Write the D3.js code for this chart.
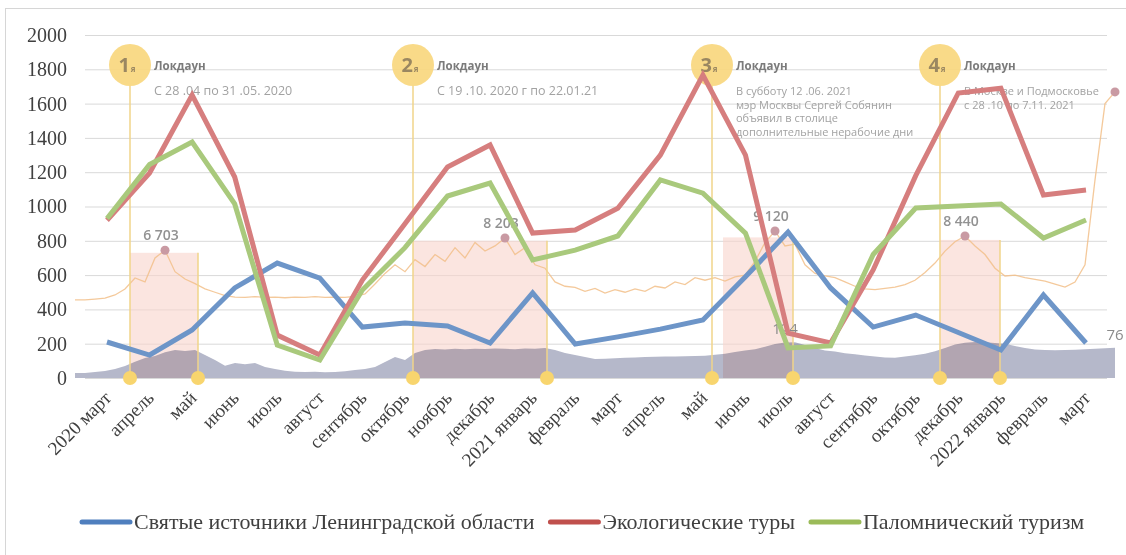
<!DOCTYPE html>
<html>
<head>
<meta charset="utf-8">
<script src="https://cdn.jsdelivr.net/npm/d3@7"></script>
<style>
  body { margin: 0; background: #fff; }
  svg { display: block; }
</style>
</head>
<body>
<svg id="chart" width="1126" height="555"></svg>
<script>
// monthly categories (the source skips "ноябрь" 2021 in its labels)
const months = ["2020 март", "апрель", "май", "июнь", "июль", "август", "сентябрь", "октябрь", "ноябрь", "декабрь",
    "2021 январь", "февраль", "март", "апрель", "май", "июнь", "июль", "август", "сентябрь", "октябрь",
    "декабрь", "2022 январь", "февраль", "март"]

const springs    = [210, 134, 280, 525, 670, 583, 297, 320, 303, 204, 496, 198, 240, 285, 338, 590, 851, 525, 297, 367, 265, 163, 484, 204]
const ecoTours   = [920, 1195, 1650, 1172, 250, 134, 571, 900, 1230, 1359, 845, 863, 990, 1300, 1767, 1300, 262, 204, 630, 1180, 1662, 1690, 1067, 1096]
const pilgrimage = [930, 1245, 1376, 1015, 192, 105, 513, 760, 1061, 1137, 688, 746, 828, 1155, 1078, 845, 175, 187, 720, 991, 1003, 1015, 816, 921]

const seriesNames = ["Святые источники Ленинградской области", "Экологические туры", "Паломнический туризм"]
const seriesValues = [springs, ecoTours, pilgrimage]

const bgOrange = [455, 455, 460, 466, 484, 519, 583, 560, 700, 745,
    620, 577, 550, 520, 500, 480, 472, 470, 474, 470,
    472, 468, 472, 470, 474, 470, 472, 470, 476, 490,
    548, 610, 660, 620, 690, 650, 720, 680, 760, 700,
    790, 740, 770, 816, 720, 760, 660, 640, 560, 535,
    528, 505, 522, 495, 515, 500, 520, 505, 535, 525,
    560, 545, 585, 570, 585, 565, 590, 600, 680, 790,
    857, 770, 780, 660, 610, 595, 585, 560, 535, 520,
    515, 522, 530, 545, 570, 615, 670, 740, 795, 828,
    770, 720, 640, 595, 600, 585, 575, 565, 548, 530,
    560, 660, 1155, 1600, 1668]

const bgCases = [29, 29, 35, 41, 52, 70, 95, 117, 128, 150,
    163, 157, 163, 134, 105, 72, 87, 80, 88, 64,
    52, 42, 36, 35, 36, 34, 35, 40, 47, 52,
    64, 93, 122, 105, 146, 163, 169, 166, 170, 168,
    171, 169, 172, 170, 168, 172, 170, 175, 163, 146,
    134, 122, 111, 112, 115, 118, 120, 122, 124, 125,
    126, 127, 128, 130, 136, 142, 152, 160, 168, 182,
    198, 207, 208, 192, 175, 160, 154, 145, 138, 131,
    125, 119, 118, 126, 132, 142, 156, 175, 196, 206,
    210, 208, 204, 200, 186, 175, 166, 163, 162, 163,
    165, 168, 170, 174, 176]

const peakIndex = [9, 43, 70, 89, 104]
const peakText  = ["6 703", "8 203", "9 120", "8 440", ""]
const caseIndex = [71, 104]
const caseText  = ["124", "76"]

const lockdownNo        = ["1", "2", "3", "4"]
const lockdownStart     = [5.5, 33.8, 63.7, 86.5]
const lockdownShadeFrom = [5.5, 33.8, 64.8, 86.5]
const lockdownEnd       = [12.3, 47.2, 71.8, 92.5]
const lockdownTop       = [730, 800, 820, 805]
const lockdownNotes = [
    ["С 28 .04 по 31 .05. 2020"],
    ["С 19 .10.  2020 г по 22.01.21"],
    ["В субботу 12 .06. 2021", "мэр Москвы Сергей Собянин", "объявил в столице", "дополнительные нерабочие дни"],
    ["В Москве и Подмосковье", "с 28 .10 по 7.11. 2021"]
]

const yTicks = d3.range(0, 2001, 200)

const plotLeft = 85, plotRight = 1107, plotTop = 35, plotBottom = 378
const circleY = 65, circleR = 21
const serif = "'Liberation Serif', 'Times New Roman', serif"
const sans = "'Open Sans', 'Noto Sans', sans-serif"

const svg = d3.select("#chart")

const y = d3.scaleLinear().domain([0, 2000]).range([plotBottom, plotTop])
const x = d3.scalePoint().domain(d3.range(months.length)).range([107, 1086])
const bgX = d3.scaleLinear().domain([0, bgOrange.length - 1]).range([75, 1115])
const lineColor = d3.scaleOrdinal(seriesNames, ["#6d95c8", "#d67e7e", "#a9c97c"])
const legendColor = d3.scaleOrdinal(seriesNames, ["#4f7fbe", "#c0504d", "#9bbb59"])

// frame
svg.append("rect")
    .attr("x", 5.5).attr("y", 8.5).attr("width", 1130).attr("height", 560)
    .attr("fill", "none").attr("stroke", "#d6d6d6")

// grid + y labels
const yAxis = svg.append("g")
    .attr("transform", `translate(${plotLeft},0)`)
    .call(d3.axisLeft(y).tickValues(yTicks).tickFormat(d3.format("d"))
        .tickSize(-(plotRight - plotLeft)).tickPadding(18))
yAxis.select(".domain").remove()
yAxis.selectAll(".tick line").attr("stroke", "#d9d9d9")
yAxis.selectAll(".tick text")
    .attr("font-family", serif).attr("font-size", 20).attr("fill", "#404040")

const lk = d3.range(lockdownNo.length)

// lockdown shading
svg.append("g").selectAll("rect").data(lk).join("rect")
    .attr("x", k => bgX(lockdownShadeFrom[k]))
    .attr("y", k => y(lockdownTop[k]))
    .attr("width", k => bgX(lockdownEnd[k]) - bgX(lockdownShadeFrom[k]))
    .attr("height", k => y(0) - y(lockdownTop[k]))
    .attr("fill", "#f8d3cc").attr("opacity", 0.6)

// daily cases area
svg.append("path").datum(bgCases)
    .attr("d", d3.area().x((d, i) => bgX(i)).y0(y(0)).y1(d => y(d)))
    .attr("fill", "#b5b8ca")
    .style("mix-blend-mode", "multiply")

// orange daily line
svg.append("path").datum(bgOrange)
    .attr("d", d3.line().x((d, i) => bgX(i)).y(d => y(d)))
    .attr("fill", "none").attr("stroke", "#f2bf8a").attr("stroke-width", 1.3).attr("opacity", 0.85)

// lockdown markers
const marks = svg.append("g")
marks.selectAll("line.start").data(lk).join("line").attr("class", "start")
    .attr("x1", k => bgX(lockdownStart[k])).attr("x2", k => bgX(lockdownStart[k]))
    .attr("y1", circleY + circleR).attr("y2", y(0))
    .attr("stroke", "#f1d58a").attr("stroke-width", 1.5)
marks.selectAll("line.end").data(lk).join("line").attr("class", "end")
    .attr("x1", k => bgX(lockdownEnd[k])).attr("x2", k => bgX(lockdownEnd[k]))
    .attr("y1", k => y(lockdownTop[k])).attr("y2", y(0))
    .attr("stroke", "#f1d58a").attr("stroke-width", 1.5)
marks.selectAll("circle.foot").data(lk.flatMap(k => [lockdownStart[k], lockdownEnd[k]])).join("circle")
    .attr("class", "foot")
    .attr("cx", d => bgX(d)).attr("cy", y(0)).attr("r", 7)
    .attr("fill", "#f8d56e")
marks.selectAll("circle.head").data(lk).join("circle").attr("class", "head")
    .attr("cx", k => bgX(lockdownStart[k])).attr("cy", circleY).attr("r", circleR)
    .attr("fill", "#f9d77e").attr("opacity", 0.92)

const num = marks.selectAll("text.num").data(lk).join("text").attr("class", "num")
    .attr("x", k => bgX(lockdownStart[k]) - 3).attr("y", circleY + 7)
    .attr("text-anchor", "middle")
    .attr("font-family", sans).attr("font-weight", 700).attr("font-size", 20).attr("fill", "#9a8761")
num.append("tspan").text(k => lockdownNo[k])
num.append("tspan").attr("font-size", 8).attr("dx", 1).text("я")

marks.selectAll("text.title").data(lk).join("text").attr("class", "title")
    .attr("x", k => bgX(lockdownStart[k]) + 24).attr("y", circleY + 5)
    .attr("font-family", sans).attr("font-weight", 700).attr("font-size", 11.5).attr("fill", "#7b7b7b")
    .text("Локдаун")

// single-line notes are set a little larger than the multi-line ones
marks.selectAll("text.note").data(lk).join("text").attr("class", "note")
    .attr("font-family", sans).attr("fill", "#a2a2a2")
    .attr("font-size", k => lockdownNotes[k].length > 1 ? 11 : 12.5)
    .each(function (k) {
        d3.select(this).selectAll("tspan").data(lockdownNotes[k]).join("tspan")
            .attr("x", bgX(lockdownStart[k]) + 24)
            .attr("y", (d, j) => circleY + 30 + j * 13.5)
            .text(d => d)
    })

// peak dots on the orange line
const pk = d3.range(peakIndex.length)
svg.append("g").selectAll("circle").data(pk).join("circle")
    .attr("cx", k => bgX(peakIndex[k])).attr("cy", k => y(bgOrange[peakIndex[k]]))
    .attr("r", 4.5).attr("fill", "#c99aa3")
svg.append("g").selectAll("text").data(pk).join("text")
    .attr("x", k => bgX(peakIndex[k]) - 4).attr("y", k => y(bgOrange[peakIndex[k]]) - 10)
    .attr("text-anchor", "middle")
    .attr("font-family", sans).attr("font-weight", 600).attr("font-size", 14).attr("fill", "#929292")
    .text(k => peakText[k])
svg.append("g").selectAll("text").data(d3.range(caseIndex.length)).join("text")
    .attr("x", k => bgX(caseIndex[k])).attr("y", k => y(bgCases[caseIndex[k]]) - 8)
    .attr("text-anchor", "middle")
    .attr("font-family", sans).attr("font-size", 15).attr("fill", "#8a8a8a")
    .text(k => caseText[k])

// the three monthly series
const line = d3.line().x((d, i) => x(i)).y(d => y(d))
svg.append("g").selectAll("path").data(seriesNames).join("path")
    .attr("d", (s, k) => line(seriesValues[k]))
    .attr("fill", "none")
    .attr("stroke", s => lineColor(s))
    .attr("stroke-width", 5)
    .attr("stroke-linejoin", "miter")

// x axis labels
const xAxis = svg.append("g")
    .attr("transform", `translate(0,${plotBottom})`)
    .call(d3.axisBottom(x).tickSize(0).tickFormat(i => months[i]))
xAxis.select(".domain").remove()
xAxis.selectAll(".tick text")
    .attr("x", 0).attr("y", 0).attr("dy", null)
    .attr("transform", "translate(5,21) rotate(-45)")
    .attr("text-anchor", "end")
    .attr("font-family", serif).attr("font-size", 19).attr("fill", "#404040")

// legend
const legend = svg.append("g").attr("transform", "translate(82,522)")
let lx = 0
seriesNames.forEach(s => {
    const g = legend.append("g").attr("transform", `translate(${lx},0)`)
    g.append("line").attr("x1", 0).attr("x2", 48).attr("y1", 0).attr("y2", 0)
        .attr("stroke", legendColor(s)).attr("stroke-width", 5).attr("stroke-linecap", "round")
    const t = g.append("text").attr("x", 52).attr("y", 7)
        .attr("font-family", serif).attr("font-size", 22).attr("fill", "#404040")
        .text(s)
    lx += 52 + t.node().getComputedTextLength() + 16
})
</script>
</body>
</html>
